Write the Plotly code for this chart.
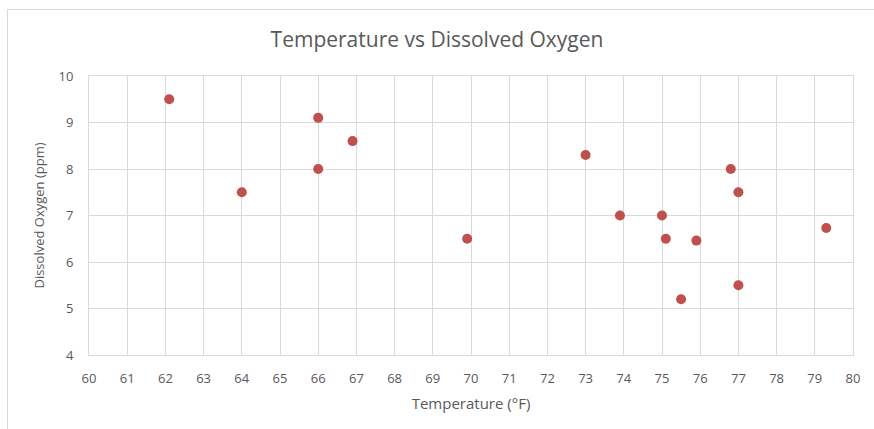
import plotly.graph_objects as go

temperature_f = [62.1, 64.0, 66.0, 66.0, 66.9, 69.9, 73.0, 73.9, 75.0, 75.1, 75.5, 75.9, 76.8, 77.0, 77.0, 79.3]
dissolved_oxygen_ppm = [9.5, 7.5, 9.1, 8.0, 8.6, 6.5, 8.3, 7.0, 7.0, 6.5, 5.2, 6.46, 8.0, 7.5, 5.5, 6.73]

title_text = "Temperature vs Dissolved Oxygen"
x_title = "Temperature (°F)"
y_title = "Dissolved Oxygen (ppm)"

FONT = "Open Sans"
TXT = "#595959"
GRID = "#d9d9d9"

fig = go.Figure()
fig.add_trace(go.Scatter(
    x=temperature_f, y=dissolved_oxygen_ppm, mode="markers",
    marker=dict(size=10, color="#C0504D", line=dict(width=0)),
    showlegend=False,
))

W, H = 874, 429
L, R, T, B = 89, 21, 76, 74
pw, ph = W - L - R, H - T - B

fig.update_layout(
    width=W, height=H,
    margin=dict(l=L, r=R, t=T, b=B),
    paper_bgcolor="white", plot_bgcolor="white",
    font=dict(family=FONT, color=TXT, size=13),
    title=dict(text=title_text, x=0.5, xref="container", xanchor="center",
               y=1 - 40 / H, yref="container", yanchor="middle",
               font=dict(family=FONT, size=21, color=TXT)),
    xaxis=dict(range=[60, 80], dtick=1, tick0=60, showgrid=True, gridcolor=GRID, gridwidth=1,
               showline=True, linecolor=GRID, linewidth=1, mirror=True, zeroline=False,
               ticks="", ticklabelstandoff=11,
               tickfont=dict(family=FONT, size=13, color=TXT),
               title=dict(text=x_title, font=dict(family=FONT, size=15, color=TXT), standoff=12)),
    yaxis=dict(range=[4, 10], dtick=1, tick0=4, showgrid=True, gridcolor=GRID, gridwidth=1,
               showline=True, linecolor=GRID, linewidth=1, mirror=True, zeroline=False,
               ticks="", ticklabelstandoff=12,
               tickfont=dict(family=FONT, size=13, color=TXT),
               title=dict(text=y_title, font=dict(family=FONT, size=13, color=TXT), standoff=10)),
)

# outer chart-area border (left and top edges visible)
bx = (7.5 - L) / pw
by = (H - B - 9.5) / ph
fig.add_shape(type="line", xref="paper", yref="paper",
              x0=bx, x1=bx, y0=(H - B - 440) / ph, y1=by,
              line=dict(color=GRID, width=1), layer="below")
fig.add_shape(type="line", xref="paper", yref="paper",
              x0=bx, x1=(880 - L) / pw, y0=by, y1=by,
              line=dict(color=GRID, width=1), layer="below")

fig.write_html("out.html")
